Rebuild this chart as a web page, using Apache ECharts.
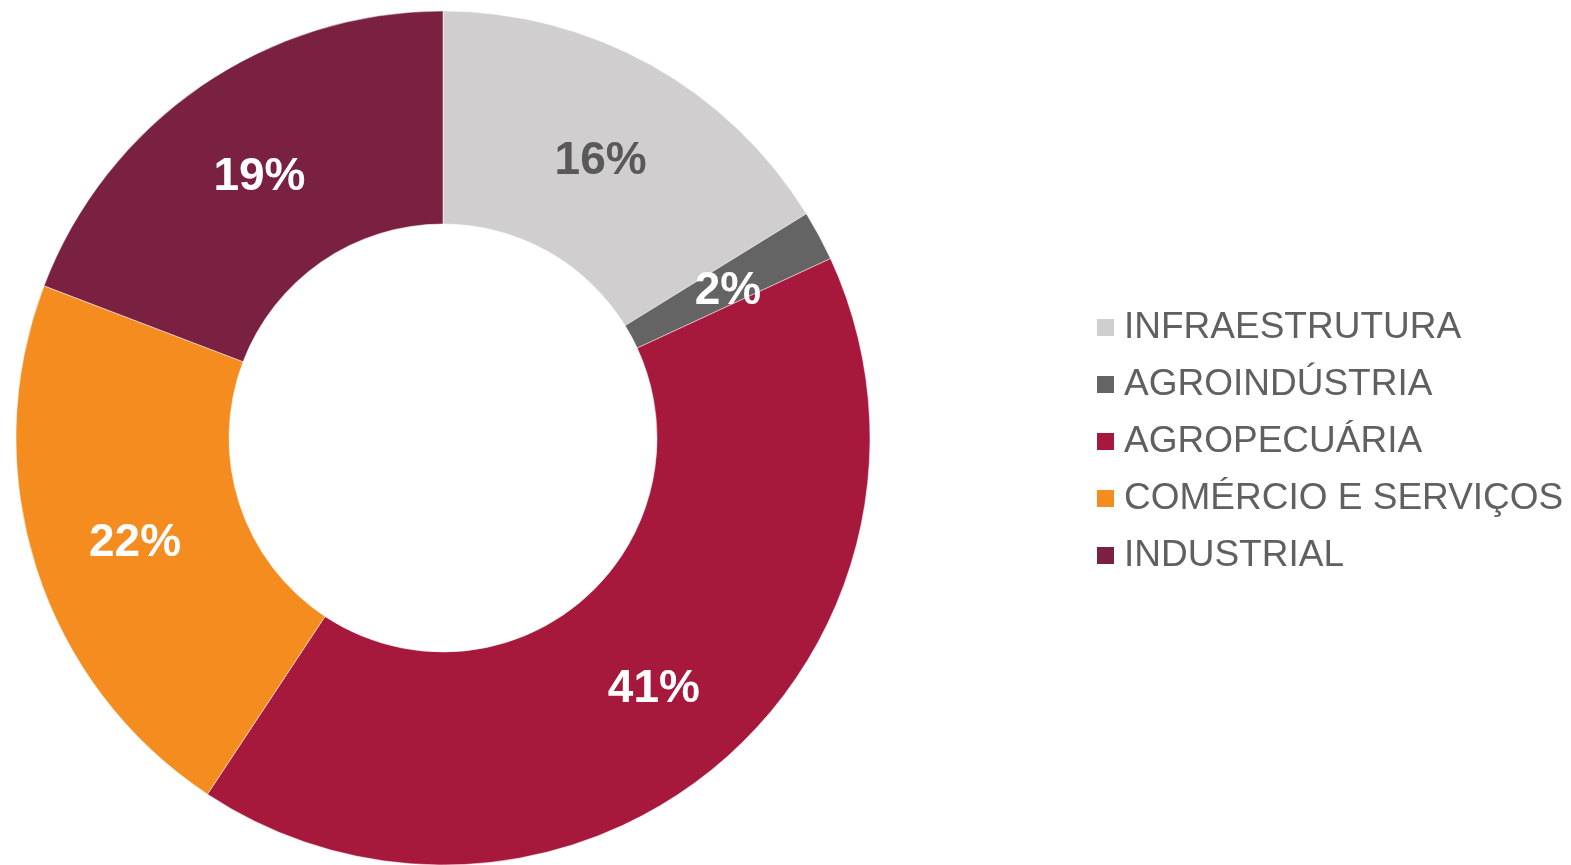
<!DOCTYPE html>
<html>
<head>
<meta charset="utf-8">
<script src="https://cdn.jsdelivr.net/npm/echarts@6/dist/echarts.min.js"></script>
<style>html,body{margin:0;padding:0;background:#fff;}#c{width:1571px;height:865px;}</style>
</head>
<body>
<div id="c"></div>
<script>
const categories = ['INFRAESTRUTURA', 'AGROINDÚSTRIA', 'AGROPECUÁRIA', 'COMÉRCIO E SERVIÇOS', 'INDUSTRIAL'];
const values = [16.2, 1.9, 41.2, 21.5, 19.2];
const colors = ['#D0CECE', '#646464', '#A6193C', '#F48C20', '#7A2040'];
const labelColors = ['#595959', '#ffffff', '#ffffff', '#ffffff', '#ffffff'];

const chart = echarts.init(document.getElementById('c'));
chart.setOption({
  animation: false,
  legend: {
    orient: 'vertical',
    left: 1090,
    top: 304,
    itemWidth: 19,
    itemHeight: 19,
    itemGap: 20,
    icon: 'rect',
    data: categories,
    textStyle: {
      fontFamily: 'Liberation Sans, Arial, sans-serif',
      fontSize: 37,
      lineHeight: 37,
      color: '#606060',
      padding: [0, 0, 0, 4]
    }
  },
  series: [{
    type: 'pie',
    center: [443, 438],
    radius: [214, 427],
    startAngle: 90,
    clockwise: true,
    percentPrecision: 0,
    avoidLabelOverlap: false,
    itemStyle: { borderColor: '#ffffff', borderWidth: 0.5 },
    label: {
      show: true,
      position: 'inside',
      formatter: '{d}%',
      fontFamily: 'Liberation Sans, Arial, sans-serif',
      fontWeight: 'bold',
      fontSize: 46,
      offset: [0, 6]
    },
    labelLine: { show: false },
    data: categories.map((n, i) => ({
      name: n,
      value: values[i],
      itemStyle: { color: colors[i] },
      label: { color: labelColors[i] }
    }))
  }]
});
</script>
</body>
</html>
